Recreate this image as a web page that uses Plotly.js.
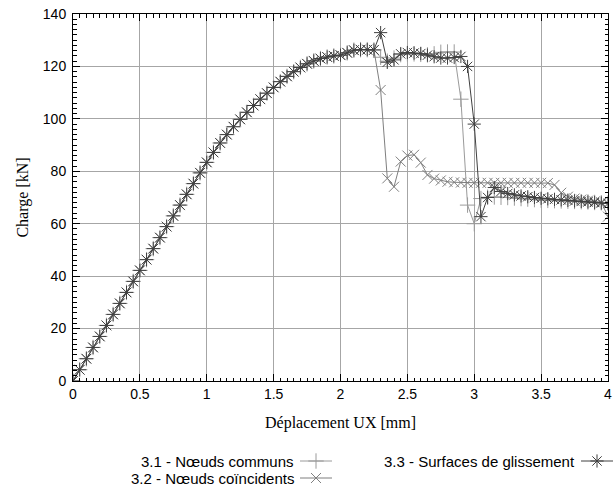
<!DOCTYPE html>
<html>
<head>
<meta charset="utf-8">
<script src="https://cdn.plot.ly/plotly-3.0.1.min.js"></script>
<style>
html,body{margin:0;padding:0;background:#fff;}
#chart{width:615px;height:488px;}
</style>
</head>
<body>
<div id="chart"></div>
<script>
// Shared elastic branch (all three models coincide)
var riseX = [0,0.05,0.1,0.15,0.2,0.25,0.3,0.35,0.4,0.45,0.5,0.55,0.6,0.65,0.7,0.75,0.8,0.85,0.9,0.95,
  1.0,1.05,1.1,1.15,1.2,1.25,1.3,1.35,1.4,1.45,1.5,1.55,1.6,1.65,1.7,1.75,1.8,1.85,1.9,1.95,
  2.0,2.05,2.1,2.15,2.2,2.25];
var riseY = [0,4.3,8.5,12.8,17.0,21.2,25.4,29.6,33.8,38.0,42.2,46.3,50.5,54.7,58.9,63.0,67.1,71.2,75.3,79.4,
  83.4,87.2,90.8,94.0,97.0,99.8,102.5,105.1,107.5,109.8,112.0,114.2,116.2,118.0,119.6,121.0,122.1,123.0,123.6,124.0,
  124.3,125.2,126.2,126.4,126.4,126.3];

// 3.1 - Noeuds communs (post-peak)
var tailX31 = [2.3,2.35,2.4,2.45,2.5,2.55,2.6,2.65,2.7,2.75,2.8,2.85,2.9,2.95,3.0,3.05,3.1,3.15,3.2,3.25,
  3.3,3.35,3.4,3.45,3.5,3.55,3.6,3.65,3.7,3.75,3.8,3.85,3.9,3.95,4.0];
var tailY31 = [123.5,122.0,123.2,124.5,124.8,124.8,124.6,124.4,124.8,125.4,125.5,125.5,107.5,67.1,60.0,69.6,70.1,70.2,70.1,70.0,
  69.8,69.6,69.4,69.2,69.0,68.9,68.8,68.7,68.6,68.5,68.4,68.3,68.1,68.0,67.9];

// 3.2 - Noeuds coincidents (post-peak)
var tailX32 = [2.3,2.35,2.4,2.45,2.5,2.55,2.6,2.65,2.7,2.75,2.8,2.85,2.9,2.95,3.0,3.05,3.1,3.15,3.2,3.25,
  3.3,3.35,3.4,3.45,3.5,3.55,3.6,3.65,3.7,3.75,3.8,3.85,3.9,3.95,4.0];
var tailY32 = [111.0,77.3,74.1,83.7,86.0,86.3,83.3,78.6,77.2,76.5,76.0,75.8,75.7,75.6,75.6,75.6,75.6,75.6,75.6,75.6,
  75.6,75.6,75.6,75.6,75.6,75.5,74.8,71.8,70.3,69.6,69.2,68.8,68.5,68.2,62.7];

// 3.3 - Surfaces de glissement (post-peak)
var tailX33 = [2.3,2.35,2.4,2.45,2.5,2.55,2.6,2.65,2.7,2.75,2.8,2.85,2.9,2.95,3.0,3.05,3.1,3.15,3.2,3.25,
  3.3,3.35,3.4,3.45,3.5,3.55,3.6,3.65,3.7,3.75,3.8,3.85,3.9,3.95,4.0];
var tailY33 = [132.9,121.6,122.5,124.8,125.3,125.1,124.9,124.3,123.7,123.2,123.2,123.4,123.8,120.0,98.0,62.7,70.0,73.8,72.3,71.5,
  71.0,70.6,70.3,70.0,69.7,69.5,69.3,69.1,68.9,68.7,68.5,68.3,68.1,67.9,67.7];

var seriesNames = ['3.1 - N\u0153uds communs', '3.2 - N\u0153uds co\u00efncidents', '3.3 - Surfaces de glissement'];
var xTickVals = [0,0.5,1,1.5,2,2.5,3,3.5,4];
var xTickText = ['0','0.5','1','1.5','2','2.5','3','3.5','4'];
var yTickVals = [0,20,40,60,80,100,120,140];

var styles = [
  {color:'#9a9a9a', symbol:'cross-thin-open', size:11},
  {color:'#7f7f7f', symbol:'x-thin-open', size:10},
  {color:'#404040', symbol:'asterisk-open', size:11}
];

function mk(x, y, s, name, xa, ya) {
  return {
    x:x, y:y, name:name, type:'scatter', mode:'lines+markers',
    xaxis:xa||'x', yaxis:ya||'y', showlegend:false, hoverinfo:'skip',
    line:{color:s.color, width:1},
    marker:{symbol:s.symbol, size:s.size, color:s.color, line:{color:s.color, width:1}}
  };
}

var data = [
  mk(riseX.concat(tailX31), riseY.concat(tailY31), styles[0], seriesNames[0]),
  mk(riseX.concat(tailX32), riseY.concat(tailY32), styles[1], seriesNames[1]),
  mk(riseX.concat(tailX33), riseY.concat(tailY33), styles[2], seriesNames[2])
];

// legend keys (gnuplot style: text then sample), in pixel-like coords of an overlay axis
var keyPos = [
  {cx:316, y:27},
  {cx:316, y:10},
  {cx:597, y:27}
];
var annotations = [];
for (var i = 0; i < 3; i++) {
  var k = keyPos[i];
  data.push(mk([k.cx-16, k.cx+16], [k.y, k.y], styles[i], seriesNames[i], 'x2', 'y2'));
  data[data.length-1].mode = 'lines';
  data.push(mk([k.cx], [k.y], styles[i], seriesNames[i], 'x2', 'y2'));
  data[data.length-1].mode = 'markers';
  annotations.push({
    xref:'x2', yref:'y2', x:k.cx-20, y:k.y, text:seriesNames[i], showarrow:false,
    xanchor:'right', yanchor:'middle',
    font:{family:'Liberation Sans, Arial, sans-serif', size:15, color:'#000'}
  });
}

var axisCommon = {
  showline:true, linecolor:'#000', linewidth:1, mirror:'ticks',
  ticks:'inside', ticklen:7, tickcolor:'#000', tickwidth:1,
  showgrid:true, gridcolor:'#a6a6a6', gridwidth:1, zeroline:false,
  tickfont:{family:'Liberation Sans, Arial, sans-serif', size:14, color:'#000'}
};

var layout = {
  width:615, height:488,
  margin:{l:73, r:0, t:14, b:0},
  paper_bgcolor:'#fff', plot_bgcolor:'#fff',
  showlegend:false,
  xaxis:Object.assign({}, axisCommon, {
    range:[0,4], domain:[0, 535/542], anchor:'y',
    tickmode:'array', tickvals:xTickVals, ticktext:xTickText,
    minor:{dtick:0.05, ticks:'inside', ticklen:3.5, tickcolor:'#000', showgrid:false},
    title:{text:'D\u00e9placement UX [mm]', standoff:16,
      font:{family:'Liberation Serif, Times New Roman, serif', size:16, color:'#000'}}
  }),
  yaxis:Object.assign({}, axisCommon, {
    range:[0,140], domain:[107/474, 1], anchor:'x',
    tickmode:'array', tickvals:yTickVals,
    minor:{dtick:2, ticks:'inside', ticklen:3.5, tickcolor:'#000', showgrid:false},
    ticklabelstandoff:3,
    title:{text:'Charge [kN]', standoff:10,
      font:{family:'Liberation Serif, Times New Roman, serif', size:16, color:'#000'}}
  }),
  xaxis2:{domain:[0,1], range:[73,615], visible:false, fixedrange:true, anchor:'y2'},
  yaxis2:{domain:[0,107/474], range:[0,107], visible:false, fixedrange:true, anchor:'x2'},
  annotations:annotations
};

Plotly.newPlot('chart', data, layout, {staticPlot:true, displayModeBar:false});
</script>
</body>
</html>
